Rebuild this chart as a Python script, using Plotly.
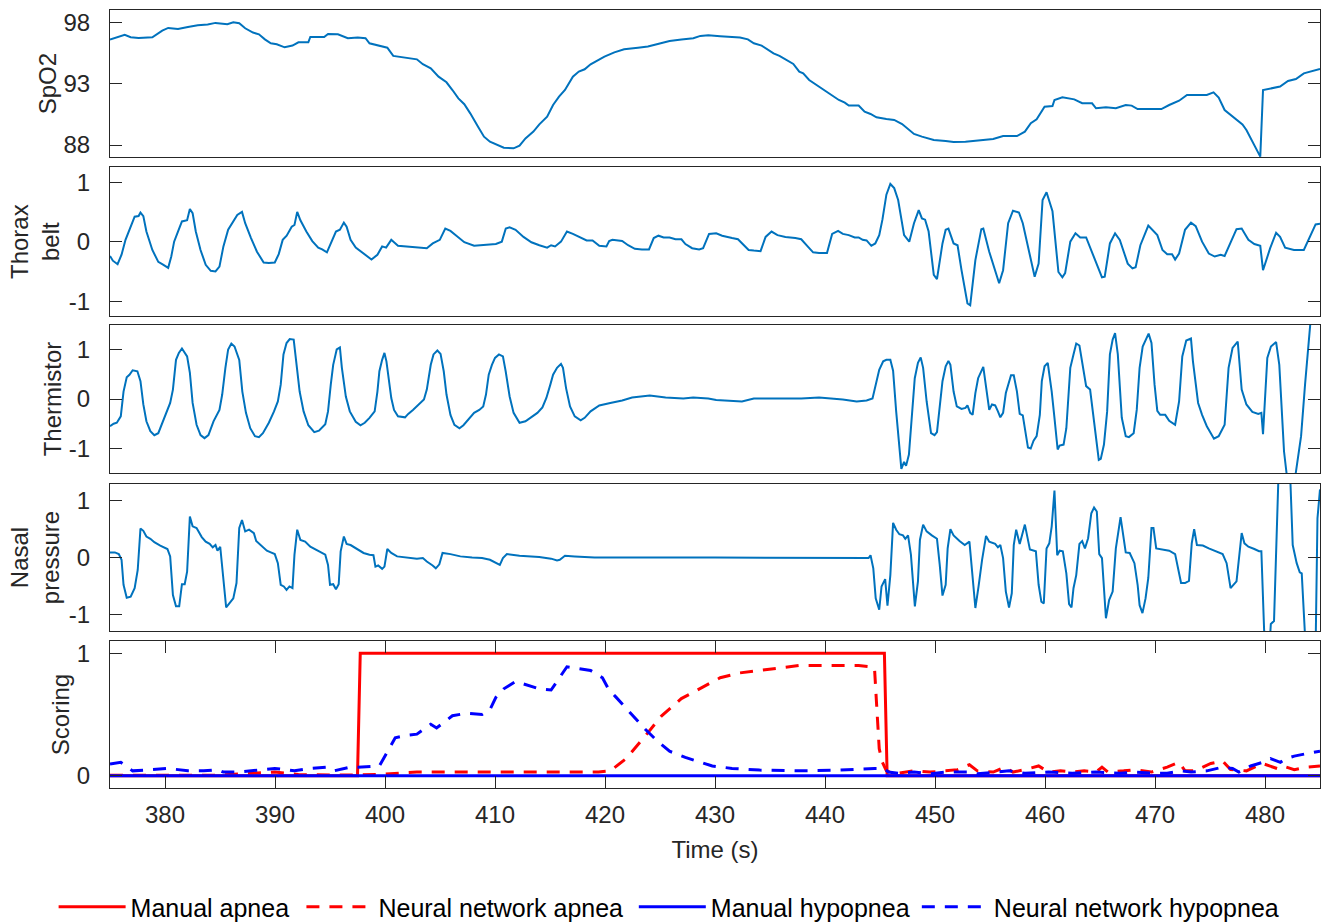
import plotly.graph_objects as go

# ---------------- data (time in s, value) ----------------
spo2 = [(375.0,96.6),(375.62,96.75),(376.34,96.97),(376.88,96.78),(377.6,96.72),(378.85,96.78),(379.75,97.32),
(380.29,97.54),(381.18,97.46),(382.08,97.62),(382.98,97.76),(383.88,97.81),(384.59,97.95),(385.67,97.84),
(386.21,98.0),(386.75,97.92),(387.29,97.51),(388.0,97.16),(388.54,97.02),(389.08,96.61),(389.62,96.29),
(390.16,96.21),(390.88,95.96),(391.59,96.10),(392.13,96.37),(393.03,96.37),(393.21,96.80),(394.47,96.80),
(394.82,97.05),(395.72,97.02),(396.62,96.70),(397.52,96.75),(398.23,96.70),(398.59,96.29),(399.31,96.15),
(400.21,95.93),(400.75,95.26),(401.64,95.12),(402.9,94.98),(403.44,94.58),(404.16,94.25),(404.87,93.57),
(405.59,93.11),(406.13,92.48),(406.67,91.80),(407.21,91.32),(407.75,90.58),(408.46,89.49),(409.0,88.68),
(409.54,88.27),(410.08,88.05),(410.8,87.78),(411.69,87.73),(412.23,87.95),(412.77,88.54),(413.49,89.09),
(414.03,89.68),(414.74,90.31),(415.28,91.26),(415.82,91.94),(416.36,92.48),(417.08,93.57),(417.62,93.98),
(418.15,94.17),(418.69,94.58),(419.41,94.93),(419.95,95.20),(420.85,95.55),(421.74,95.80),(423.0,95.93),
(423.9,96.02),(424.8,96.23),(425.87,96.48),(426.95,96.59),(428.03,96.70),
(428.67,96.89),(429.39,96.94),(430.47,96.86),(431.55,96.80),(432.27,96.75),(432.99,96.61),(433.53,96.29),
(434.24,96.10),(434.78,95.80),(435.32,95.47),(435.86,95.26),(436.4,94.98),(437.12,94.60),(437.66,93.98),
(438.02,93.84),(438.56,93.30),(439.1,92.97),(439.64,92.62),(440.18,92.29),(440.72,91.99),(441.26,91.67),
(441.8,91.45),(442.16,91.21),(443.06,91.21),(443.6,90.72),(444.14,90.53),(444.68,90.26),(445.58,90.12),
(446.29,90.04),(447.01,89.71),(447.55,89.30),(448.09,88.90),(448.81,88.68),(449.89,88.41),(450.97,88.33),
(451.69,88.24),(452.77,88.27),(454.03,88.41),(455.29,88.49),(456.19,88.73),(457.45,88.73),(458.17,89.09),
(458.71,89.77),(459.24,90.09),(459.6,90.58),(459.96,91.12),(460.68,91.18),(460.86,91.67),(461.58,91.89),
(462.66,91.72),(463.38,91.40),(464.28,91.40),(464.64,90.99),(465.54,91.07),(466.44,90.99),(467.34,91.26),
(467.88,91.21),(468.42,90.93),(470.04,90.93),(470.58,90.93),(471.29,91.26),(472.19,91.61),(472.91,92.08),
(474.71,92.08),(475.32,92.29),(475.79,91.86),(476.33,90.85),(476.87,90.45),(477.41,90.04),(477.95,89.68),
(478.31,89.22),(478.85,88.27),(479.57,87.05),(479.82,92.48),(480.47,92.62),(481.37,92.76),(482.09,93.22),
(482.81,93.38),(483.53,93.84),(484.24,94.03),(485.0,94.2)]

thorax = [(375.0,-0.24),(375.26,-0.32),(375.69,-0.38),(376.05,-0.22),(376.41,0.03),(376.88,0.25),(377.24,0.42),
(377.60,0.43),(377.77,0.49),(378.03,0.43),(378.31,0.17),(378.85,-0.14),(379.39,-0.34),(379.86,-0.39),(380.29,-0.44),
(380.57,-0.25),(380.83,0.0),(381.18,0.17),(381.54,0.34),(382.01,0.36),(382.26,0.55),(382.51,0.48),(382.80,0.17),
(383.23,-0.14),(383.70,-0.39),(384.16,-0.49),(384.59,-0.50),(384.95,-0.42),(385.31,-0.08),(385.74,0.20),(386.21,0.34),
(386.57,0.45),(387.00,0.50),(387.29,0.31),(387.82,0.06),(388.36,-0.17),(388.97,-0.35),(389.44,-0.36),(389.98,-0.35),
(390.34,-0.21),(390.70,0.03),(391.06,0.10),(391.52,0.25),(391.77,0.28),(392.02,0.50),(392.31,0.36),(392.85,0.17),
(393.39,0.01),(393.93,-0.10),(394.29,-0.13),(394.72,-0.18),(395.11,0.0),(395.54,0.17),(395.90,0.20),(396.26,0.32),
(396.51,0.25),(396.87,0.03),(397.34,-0.10),(398.05,-0.20),(398.77,-0.30),(399.31,-0.22),(399.74,-0.08),(400.10,-0.10),
(400.57,0.03),(401.18,-0.07),(401.82,-0.08),(402.54,-0.10),(403.26,-0.10),(403.80,-0.11),(404.34,-0.03),(404.98,0.03),
(405.48,0.22),(405.95,0.18),(406.49,0.10),(407.21,-0.01),(408.10,-0.07),(409.18,-0.06),(410.08,-0.04),(410.62,0.0),
(410.98,0.22),(411.33,0.24),(411.87,0.20),(412.59,0.08),(413.31,-0.01),(414.03,-0.06),(414.74,-0.10),(415.10,-0.06),
(415.46,-0.08),(416.00,0.0),(416.54,0.17),(417.08,0.13),(417.79,0.06),(418.33,0.02),(418.87,0.02),(419.48,-0.07),
(420.13,-0.08),(420.38,0.01),(420.67,0.03),(421.56,0.01),(422.10,-0.06),(422.71,-0.12),(423.36,-0.13),(424.00,-0.13),
(424.43,0.06),(424.86,0.10),(425.33,0.07),(425.87,0.07),(426.41,0.04),(426.95,0.04),(427.31,-0.04),(427.92,-0.11),
(428.56,-0.13),(428.92,-0.11),
(429.46,0.13),(430.11,0.14),(430.65,0.10),(431.01,0.08),(431.55,0.06),(432.09,0.04),(432.63,-0.07),(433.06,-0.14),
(433.53,-0.15),(434.14,-0.16),(434.60,0.08),(435.14,0.17),(435.68,0.11),(436.40,0.08),(437.30,0.06),(437.84,0.04),
(438.38,-0.07),(438.92,-0.18),(439.46,-0.19),(440.18,-0.19),(440.65,0.13),(441.19,0.18),(441.62,0.13),(442.16,0.11),
(442.70,0.07),(443.06,0.07),(443.42,0.03),(443.78,0.02),(444.21,-0.07),(444.57,-0.03),(444.93,0.11),(445.22,0.37),
(445.58,0.79),(445.94,0.97),(446.29,0.90),(446.65,0.70),(447.19,0.11),(447.66,0.0),(448.09,0.31),(448.52,0.53),
(448.81,0.39),(449.10,0.37),(449.42,0.17),(449.89,-0.56),(450.18,-0.63),(450.68,-0.03),(450.97,0.20),(451.22,0.22),
(451.69,-0.03),(452.05,-0.06),(452.41,-0.48),(452.95,-1.04),(453.20,-1.07),(453.67,-0.31),(454.21,0.21),(454.39,0.22),
(454.93,-0.17),(455.47,-0.48),(455.83,-0.70),(456.19,-0.48),(456.65,0.31),(457.09,0.52),(457.63,0.49),(457.98,0.31),
(458.52,-0.17),(459.06,-0.59),(459.42,-0.37),(459.78,0.70),(460.14,0.83),(460.68,0.51),(461.22,-0.51),(461.58,-0.60),
(461.83,-0.53),(462.30,0.0),(462.77,0.14),(463.20,0.07),(463.74,0.07),(464.28,-0.17),(464.82,-0.42),(465.18,-0.60),
(465.43,-0.59),(465.90,-0.03),(466.37,0.14),(466.80,0.03),(467.52,-0.37),(467.95,-0.45),(468.24,-0.43),(468.67,-0.06),
(469.39,0.27),(469.85,0.18),(470.21,0.11),(470.68,-0.14),(471.11,-0.21),(471.55,-0.21),(471.83,-0.30),(472.19,-0.20),
(472.73,0.20),(473.27,0.32),(473.70,0.26),(474.28,0.0),(474.89,-0.20),(475.43,-0.25),(475.97,-0.22),(476.33,-0.24),
(476.87,0.0),(477.41,0.21),(477.88,0.22),(478.49,0.03),(479.03,-0.04),(479.57,-0.07),(479.82,-0.48),(480.47,-0.11),
(481.01,0.15),(481.37,0.08),(481.83,-0.10),(482.63,-0.14),(483.53,-0.14),(484.08,0.08),(484.60,0.29),(485.0,0.30)]

thermistor = [(375.0,-0.55),(375.33,-0.50),(375.62,-0.48),(375.98,-0.35),(376.23,0.15),(376.52,0.44),(376.77,0.49),
(377.06,0.58),(377.49,0.56),(377.77,0.36),(378.03,-0.11),(378.31,-0.45),(378.67,-0.65),(379.03,-0.73),(379.39,-0.69),
(379.75,-0.48),(380.11,-0.28),(380.47,-0.08),(380.72,0.19),(381.00,0.79),(381.26,0.93),(381.54,1.02),(382.01,0.86),
(382.26,0.53),(382.51,-0.08),(382.87,-0.52),(383.23,-0.73),(383.59,-0.79),(383.95,-0.73),(384.41,-0.45),(384.95,-0.22),
(385.20,0.09),(385.49,0.63),(385.74,1.0),(386.03,1.12),(386.32,1.06),(386.75,0.79),(387.03,0.15),(387.36,-0.28),
(387.75,-0.59),(388.18,-0.75),(388.54,-0.77),(388.90,-0.69),(389.44,-0.48),(389.91,-0.25),(390.26,-0.05),(390.52,0.29),
(390.77,0.90),(391.05,1.13),(391.34,1.21),(391.70,1.20),(391.95,0.76),(392.24,0.15),(392.60,-0.25),(393.03,-0.53),
(393.57,-0.67),(394.00,-0.64),(394.57,-0.51),(394.82,-0.25),(395.07,0.29),(395.29,0.69),(395.61,1.0),(395.90,1.04),
(396.08,0.63),(396.44,0.05),(396.80,-0.25),(397.34,-0.46),(397.77,-0.53),(398.16,-0.48),(398.59,-0.38),(399.06,-0.25),
(399.31,0.15),(399.49,0.56),(399.74,0.79),(399.95,0.93),(400.13,0.76),(400.31,0.42),(400.57,0.02),(400.82,-0.22),
(401.18,-0.35),(401.82,-0.37),(402.11,-0.30),(402.54,-0.22),(403.08,-0.11),(403.54,-0.01),(403.80,0.19),(404.16,0.69),
(404.41,0.90),(404.76,0.98),(405.05,0.91),(405.34,0.56),(405.59,0.09),(405.95,-0.32),(406.31,-0.52),(406.77,-0.59),
(407.13,-0.53),(407.56,-0.42),(408.10,-0.28),(408.57,-0.22),(408.93,-0.15),(409.18,0.09),(409.43,0.49),(409.72,0.69),
(410.00,0.83),(410.36,0.90),(410.72,0.86),(410.97,0.56),(411.33,0.05),(411.69,-0.28),(412.23,-0.48),(412.77,-0.45),
(413.31,-0.37),(413.85,-0.28),(414.31,-0.17),(414.67,0.02),(415.03,0.29),(415.28,0.49),(415.64,0.63),(416.00,0.71),
(416.18,0.63),(416.46,0.22),(416.82,-0.15),(417.25,-0.35),(417.79,-0.43),(418.15,-0.38),(418.69,-0.25),(419.48,-0.13),
(420.48,-0.08),(421.56,-0.03),(422.46,0.03),(424.07,0.07),(425.51,0.03),(427.12,0.01),(428.02,0.03),(428.92,0.02),
(429.39,0.01),(430.11,-0.02),(431.19,-0.03),(432.45,-0.05),(433.53,0.01),(434.97,0.01),(436.40,0.02),(437.84,0.01),
(439.46,0.03),(440.54,0.01),(441.62,-0.01),(442.88,-0.05),(443.78,-0.03),(444.32,0.01),(444.60,0.26),(444.93,0.59),
(445.29,0.76),(445.58,0.79),(445.94,0.79),(446.19,0.57),(446.47,-0.25),(446.73,-0.99),(446.94,-1.41),(447.19,-1.27),
(447.37,-1.35),(447.63,-1.12),(447.91,-0.25),(448.16,0.42),(448.45,0.73),(448.70,0.84),(448.92,0.63),(449.24,-0.05),
(449.64,-0.69),(449.96,-0.73),(450.18,-0.67),(450.43,-0.18),(450.68,0.36),(450.97,0.66),(451.22,0.77),(451.40,0.69),
(451.69,0.15),(451.98,-0.15),(452.41,-0.20),(452.77,-0.18),(452.95,-0.13),(453.20,-0.28),(453.42,-0.32),(453.67,0.12),
(453.92,0.42),(454.39,0.65),(454.64,0.29),(454.93,-0.22),(455.18,-0.11),(455.47,-0.13),(455.72,-0.25),(455.94,-0.37),
(456.19,-0.28),(456.44,0.12),(456.91,0.48),(457.16,0.48),(457.45,0.15),(457.70,-0.30),(457.98,-0.33),(458.24,-0.65),
(458.45,-0.98),(458.70,-1.0),(458.96,-0.84),(459.24,-0.75),(459.53,-0.32),(459.71,0.36),(459.96,0.66),(460.25,0.73),
(460.61,0.15),(460.86,-0.38),(461.15,-1.02),(461.33,-0.94),(461.69,-0.92),(461.94,-0.59),(462.30,0.63),(462.59,0.90),
(462.84,1.12),(463.13,1.08),(463.49,0.56),(463.74,0.26),(464.10,0.19),(464.35,-0.25),(464.64,-0.86),(464.89,-1.23),
(465.07,-1.21),(465.36,-0.92),(465.65,-0.25),(465.90,0.90),(466.15,1.20),(466.37,1.33),(466.62,0.90),(466.98,-0.38),
(467.34,-0.75),(467.63,-0.77),(468.06,-0.69),(468.34,-0.22),(468.60,0.63),(468.88,1.06),(469.42,1.32),(469.68,1.13),
(469.96,0.29),(470.21,-0.24),(470.47,-0.32),(470.93,-0.32),(471.29,-0.44),(471.83,-0.52),(472.19,-0.05),(472.48,0.86),
(472.84,1.18),(473.27,1.22),(473.45,0.76),(473.92,-0.08),(474.28,-0.32),(474.71,-0.55),(475.36,-0.80),(475.79,-0.75),
(476.33,-0.52),(476.69,0.63),(477.05,1.03),(477.52,1.16),(477.88,0.19),(478.31,-0.11),(478.85,-0.26),(479.39,-0.30),
(479.67,-0.28),(479.82,-0.71),(480.21,0.83),(480.54,1.06),(481.01,1.15),(481.30,0.69),(481.73,-1.06),(482.09,-1.75),
(482.63,-1.75),(482.99,-1.16),(483.28,-0.75),(483.64,0.29),(483.90,1.10),(484.08,1.6),(484.5,2.5)]

nasal = [(375.0,0.09),(375.44,0.09),(375.80,0.06),(376.05,-0.04),(376.23,-0.48),(376.52,-0.71),(376.88,-0.69),
(377.24,-0.54),(377.52,-0.22),(377.77,0.51),(378.03,0.47),(378.31,0.37),(378.67,0.33),(379.03,0.27),(379.57,0.21),
(380.22,0.15),(380.47,0.02),(380.72,-0.66),(381.00,-0.86),(381.29,-0.86),(381.54,-0.47),(381.79,-0.47),(382.01,-0.25),
(382.26,0.72),(382.51,0.55),(382.87,0.52),(383.34,0.36),(383.70,0.28),(384.06,0.24),(384.34,0.18),(384.59,0.22),
(384.77,0.12),(385.02,0.19),(385.31,-0.36),(385.56,-0.88),(385.85,-0.81),(386.21,-0.72),(386.50,-0.45),(386.75,0.52),
(387.00,0.66),(387.29,0.46),(387.64,0.49),(388.08,0.43),(388.29,0.29),(388.72,0.21),(389.26,0.12),(389.62,0.09),
(389.98,0.06),(390.26,-0.10),(390.52,-0.48),(390.80,-0.51),(391.05,-0.57),(391.31,-0.51),(391.59,-0.54),(391.77,0.05),
(392.02,0.49),(392.31,0.31),(392.74,0.28),(393.21,0.19),(393.75,0.14),(394.28,0.08),(394.57,0.05),(394.82,-0.13),
(395.00,-0.48),(395.29,-0.47),(395.54,-0.56),(395.79,-0.47),(395.97,0.11),(396.26,0.37),(396.51,0.24),(396.87,0.22),
(397.44,0.15),(398.05,0.08),(398.59,0.05),(398.95,0.04),(399.13,-0.16),(399.38,-0.14),(399.74,-0.20),(399.95,-0.16),
(400.21,0.15),(400.57,0.08),(401.10,0.02),(402.18,-0.01),(402.90,-0.02),(403.44,-0.01),(403.80,-0.07),(404.33,-0.14),
(404.62,-0.19),(404.94,-0.12),(405.23,0.08),(405.95,0.06),(406.85,0.02),(407.92,0.0),(408.82,-0.01),(409.54,-0.04),
(410.08,-0.10),(410.44,-0.13),(410.72,-0.01),(411.08,0.06),(412.23,0.03),(414.02,0.01),(415.10,-0.02),(415.64,-0.05),
(415.89,-0.04),(416.36,0.03),(417.25,0.02),(419.05,0.0),(430.0,0.0),
(443.78,0.0),(443.96,-0.01),(444.14,0.04),(444.39,-0.19),(444.61,-0.72),(444.93,-0.92),(445.14,-0.51),(445.47,-0.38),
(445.68,-0.85),(445.94,-0.31),(446.19,0.61),(446.47,0.49),(446.76,0.41),(447.09,0.39),(447.30,0.33),(447.55,0.39),
(447.81,0.05),(448.17,-0.86),(448.45,-0.42),(448.63,0.31),(448.92,0.58),(449.24,0.46),(449.71,0.39),(450.18,0.33),
(450.43,-0.13),(450.68,-0.67),(450.97,-0.48),(451.15,0.16),(451.40,0.50),(451.69,0.39),(452.23,0.29),(452.70,0.22),
(453.13,0.28),(453.38,-0.31),(453.67,-0.89),(453.96,-0.51),(454.28,-0.04),(454.64,0.38),(454.93,0.28),(455.47,0.24),
(455.72,0.18),(455.94,0.22),(456.19,-0.01),(456.44,-0.60),(456.73,-0.88),(456.98,-0.63),(457.16,0.22),(457.38,0.49),
(457.70,0.24),(458.17,0.58),(458.63,0.14),(459.17,0.11),(459.42,-0.48),(459.67,-0.78),(459.89,-0.81),(460.14,0.16),
(460.39,0.25),(460.61,0.55),(460.86,1.18),(461.11,0.04),(461.33,0.12),(461.62,0.11),(461.94,-0.28),(462.19,-0.82),
(462.41,-0.88),(462.59,-0.54),(462.84,-0.31),(463.13,0.24),(463.38,0.29),(463.63,0.16),(463.92,0.34),(464.21,0.78),
(464.46,0.88),(464.71,0.81),(464.93,0.06),(465.18,-0.01),(465.54,-1.07),(465.83,-0.75),(466.15,-0.60),(466.44,0.16),
(466.87,0.71),(467.34,0.09),(467.70,0.08),(468.13,-0.10),(468.42,-0.48),(468.60,-0.84),(468.86,-0.98),(469.14,-0.72),
(469.39,-0.36),(469.68,0.52),(469.86,0.52),(470.11,0.16),(470.40,0.15),(470.76,0.14),(471.29,0.12),(471.83,0.06),
(472.37,-0.45),(472.73,-0.45),(473.09,-0.41),(473.34,0.25),(473.56,0.50),(473.81,0.22),(474.35,0.21),(474.89,0.16),
(475.43,0.12),(475.79,0.08),(476.15,0.06),(476.51,-0.10),(476.87,-0.54),(477.41,-0.42),(477.88,0.43),(478.13,0.25),
(478.49,0.19),(479.03,0.15),(479.46,0.11),(479.67,0.11),(479.92,-1.28),(480.10,-1.6),(480.40,-1.6),(480.53,-1.17),
(480.82,-1.12),(481.25,1.6),(482.0,2.2),(482.26,1.6),(482.52,0.22),(482.88,-0.10),(483.16,-0.26),(483.34,-0.28),
(483.70,-1.6),(484.2,-2.2),(484.60,-1.6),(484.77,0.69),(485.0,1.2)]

manual_apnea = [(375.0,0),(397.5,0),(397.75,1),(445.4,1),(445.65,0),(485.0,0)]
manual_hypopnea = [(375.0,0),(485.0,0)]

nn_apnea = [(375.0,0.005),(377.77,0.005),(381.36,0.005),(384.95,0.005),(389.98,0.03),(392.13,0.01),(395.72,0.005),
(399.31,0.01),(402.90,0.03),(406.49,0.03),(410.08,0.03),(412.23,0.03),(414.74,0.03),(417.25,0.03),(419.41,0.03),
(420.48,0.04),(421.92,0.14),(423.71,0.33),(425.15,0.49),(426.94,0.63),(428.74,0.72),(430.47,0.80),(432.27,0.84),
(434.06,0.86),(435.86,0.88),(437.66,0.90),(439.46,0.90),(441.26,0.90),(443.06,0.90),(444.14,0.89),(444.50,0.88),
(444.68,0.60),(444.93,0.22),(445.22,0.11),(445.58,0.04),(445.94,0.03),(446.65,0.02),(448.09,0.04),(449.53,0.03),
(450.97,0.04),(452.05,0.05),(453.13,0.09),(453.85,0.04),(455.29,0.03),(456.37,0.07),(457.09,0.03),(458.17,0.05),
(459.42,0.08),(460.32,0.03),(461.40,0.04),(462.48,0.03),(463.56,0.04),(464.64,0.03),(465.18,0.07),(465.72,0.03),
(467.16,0.04),(468.24,0.05),(469.68,0.03),(471.11,0.07),(472.19,0.11),(472.73,0.04),(473.63,0.04),(475.07,0.10),
(476.15,0.12),(476.87,0.05),(478.31,0.04),(479.78,0.10),(481.40,0.05),(481.94,0.07),(482.66,0.05),(483.73,0.07),
(485.0,0.08)]

nn_hypopnea = [(375.0,0.095),(375.98,0.11),(377.06,0.04),(378.49,0.05),(380.29,0.06),(382.08,0.04),(383.52,0.04),
(384.77,0.05),(385.31,0.03),(386.75,0.03),(388.00,0.04),(389.98,0.06),(391.77,0.04),(393.21,0.06),(394.64,0.07),
(395.36,0.04),(396.80,0.07),(397.51,0.07),(399.49,0.08),(400.21,0.19),(400.93,0.31),(402.0,0.33),(402.90,0.34),
(404.16,0.42),(404.69,0.39),(406.13,0.49),(407.38,0.51),(408.82,0.50),(409.54,0.54),(410.08,0.64),(410.80,0.71),
(411.87,0.77),(412.95,0.74),(414.02,0.71),(415.10,0.70),(415.82,0.80),(416.54,0.89),(417.25,0.88),(418.69,0.86),
(419.77,0.80),(420.30,0.71),(421.02,0.64),(421.74,0.57),(422.64,0.48),(423.71,0.375),(424.79,0.28),(425.87,0.20),
(427.30,0.15),(428.74,0.11),(429.75,0.08),(431.55,0.06),(434.06,0.046),(437.66,0.04),(441.26,0.046),(444.50,0.06),
(445.40,0.06),(445.76,0.03),(446.65,0.02),(448.09,0.03),(449.53,0.016),(450.97,0.03),(453.13,0.03),(453.85,0.016),
(455.29,0.03),(456.73,0.04),(458.17,0.02),(460.32,0.03),(462.48,0.02),(464.64,0.03),(466.80,0.02),(468.24,0.03),
(470.04,0.02),(471.11,0.02),(472.37,0.04),(473.27,0.03),(474.71,0.04),(476.15,0.07),(477.05,0.06),(477.62,0.03),
(478.70,0.08),(479.78,0.11),(480.50,0.14),(481.40,0.11),(481.94,0.14),(482.66,0.16),(483.73,0.18),(485.0,0.20)]

x_ticks = [380, 390, 400, 410, 420, 430, 440, 450, 460, 470, 480]
panel_titles = ["SpO2", "Thorax<br>belt", "Thermistor", "Nasal<br>pressure", "Scoring"]
panel_ranges = [[87, 99], [-1.25, 1.25], [-1.5, 1.5], [-1.3, 1.3], [-0.1, 1.1]]
panel_ticks = [[88, 93, 98], [-1, 0, 1], [-1, 0, 1], [-1, 0, 1], [0, 1]]
panel_ticktext = [["88", "93", "98"], ["-1", "0", "1"], ["-1", "0", "1"], ["-1", "0", "1"], ["0", "1"]]
legend_names = ["Manual apnea", "Neural network apnea", "Manual hypopnea", "Neural network hypopnea"]

# ---------------- figure ----------------
SIG = "#0072BD"
AX = "#262626"
FONT = "Liberation Sans, Arial, Helvetica, sans-serif"
FS = 24

def xy(pairs):
    return [p[0] for p in pairs], [p[1] for p in pairs]

fig = go.Figure()
for i, sig in enumerate([spo2, thorax, thermistor, nasal]):
    t, v = xy(sig)
    fig.add_trace(go.Scatter(x=t, y=v, mode="lines", line=dict(color=SIG, width=2),
                             xaxis="x" + ("" if i == 0 else str(i + 1)),
                             yaxis="y" + ("" if i == 0 else str(i + 1)), showlegend=False))

score = [(manual_apnea, "#FF0000", "solid"), (nn_apnea, "#FF0000", "13px,10px"),
         (manual_hypopnea, "#0000FF", "solid"), (nn_hypopnea, "#0000FF", "13px,10px")]
legend_ids = ["legend", "legend2", "legend3", "legend4"]
for (ser, col, dash), name, lg in zip(score, legend_names, legend_ids):
    t, v = xy(ser)
    fig.add_trace(go.Scatter(x=t, y=v, mode="lines", name=name, legend=lg,
                             line=dict(color=col, width=3, dash=dash),
                             xaxis="x5", yaxis="y5"))

# panel pixel geometry: plot area from y=10 to y=788 (778 px)
domains = [[0.8107, 1.0], [0.6067, 0.7978], [0.4045, 0.5955], [0.2014, 0.3911], [0.0, 0.1889]]
title_standoff = [0, 2, 0, 2, 0]
legend_x = [-0.0466, 0.1582, 0.4329, 0.6668]

layout = dict(
    width=1323, height=922,
    margin=dict(l=110, r=3, t=10, b=134, autoexpand=False),
    paper_bgcolor="white", plot_bgcolor="white",
    font=dict(family=FONT, size=FS, color=AX),
)
for lg, lx in zip(legend_ids, legend_x):
    layout[lg] = dict(orientation="h", x=lx, xanchor="left", y=-0.153, yanchor="middle",
                      font=dict(size=25, color="black"), bgcolor="rgba(0,0,0,0)",
                      itemwidth=67, borderwidth=0)
for i in range(5):
    sx = "" if i == 0 else str(i + 1)
    last = i == 4
    layout["xaxis" + sx] = dict(
        domain=[0, 1], anchor="y" + sx, range=[375, 485], showgrid=False, zeroline=False,
        showline=True, linecolor=AX, linewidth=1, mirror="ticks" if last else True,
        ticks="inside" if last else "", ticklen=12, tickcolor=AX,
        tickvals=x_ticks, showticklabels=last, ticklabelstandoff=5, automargin=False,
        tickfont=dict(size=FS, color=AX),
        title=dict(text="Time (s)" if last else "", font=dict(size=FS, color=AX), standoff=14),
    )
    layout["yaxis" + sx] = dict(
        domain=domains[i], anchor="x" + sx, range=panel_ranges[i],
        tickvals=panel_ticks[i], ticktext=panel_ticktext[i],
        showgrid=False, zeroline=False, showline=True, linecolor=AX, linewidth=1, mirror="ticks",
        ticks="inside", ticklen=12, tickcolor=AX, ticklabelstandoff=14, automargin=False,
        tickfont=dict(size=FS, color=AX),
        title=dict(text=panel_titles[i], font=dict(size=FS, color=AX), standoff=title_standoff[i]),
    )
fig.update_layout(**layout)

fig.write_html("out.html", config={"displayModeBar": False},
               post_script="document.body.style.margin='0';document.body.style.overflow='hidden';")
